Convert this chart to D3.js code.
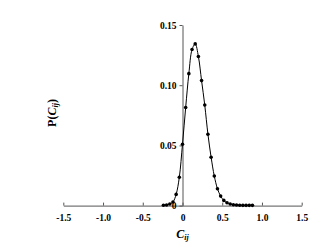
<!DOCTYPE html>
<html>
<head>
<meta charset="utf-8">
<script src="https://cdn.jsdelivr.net/npm/d3@7"></script>
<style>
  body { margin: 0; background: #fff; }
  svg { display: block; }
  .axis text { font-family: "Liberation Serif", "Times New Roman", serif; font-weight: bold; font-size: 9.5px; fill: #000; }
  .axis path, .axis line { stroke: #555; stroke-width: 1; }
  .lbl { font-family: "Liberation Serif", "Times New Roman", serif; font-weight: bold; font-size: 12px; fill: #000; }
</style>
</head>
<body>
<svg id="chart"></svg>
<script>
// correlation bins
const cij = [-0.24, -0.20, -0.16, -0.12, -0.08, -0.04, 0.00, 0.04, 0.08, 0.12,
             0.16, 0.20, 0.24, 0.28, 0.32, 0.36, 0.40, 0.44, 0.48, 0.52,
             0.56, 0.60, 0.64, 0.68, 0.72, 0.76, 0.80, 0.84, 0.88]
// probability P(Cij)
const pCij = [0.0003, 0.0005, 0.0013, 0.003, 0.0093, 0.0235, 0.051, 0.0815, 0.1096, 0.1296,
              0.1343, 0.1238, 0.1038, 0.0835, 0.0593, 0.0402, 0.0246, 0.014, 0.0079, 0.0043,
              0.0024, 0.0013, 0.0007, 0.0005, 0.0003, 0.0002, 0.0002, 0.0002, 0.0002]

const xTicks = [-1.5, -1, -0.5, 0, 0.5, 1, 1.5]
const xTickLabels = ["-1.5", "-1.0", "-0.5", "0", "0.5", "1.0", "1.5"]
const yTicks = [0, 0.05, 0.10, 0.15]
const yTickLabels = ["0", "0.05", "0.10", "0.15"]

const w = 334, h = 250

const svg = d3.select('#chart')
  .attr('width', w)
  .attr('height', h)

const xScale = d3.scaleLinear()
  .domain([-1.5, 1.5])
  .range([63.3, 301.7])

const yScale = d3.scaleLinear()
  .domain([0, 0.15])
  .range([205.6, 25])

const xAxis = d3.axisBottom(xScale)
  .tickValues(xTicks)
  .tickFormat((d, i) => xTickLabels[i])
  .tickSizeInner(-3)
  .tickSizeOuter(0)
  .tickPadding(9)

const yAxis = d3.axisLeft(yScale)
  .tickValues(yTicks)
  .tickFormat((d, i) => yTickLabels[i])
  .tickSizeInner(3)
  .tickSizeOuter(0)
  .tickPadding(3)

svg.append('g')
  .attr('class', 'axis')
  .attr('transform', `translate(0,${yScale(0)})`)
  .call(xAxis)

svg.append('g')
  .attr('class', 'axis')
  .attr('transform', `translate(${xScale(0)},0)`)
  .call(yAxis)

const data = cij.map((c, i) => [c, pCij[i]])

const line = d3.line()
  .x(d => xScale(d[0]))
  .y(d => yScale(d[1]))
  .curve(d3.curveCatmullRom)

svg.append('path')
  .datum(data)
  .attr('d', line)
  .attr('fill', 'none')
  .attr('stroke', '#000')
  .attr('stroke-width', 1)

svg.selectAll('circle.pt')
  .data(data)
  .enter()
  .append('circle')
    .attr('class', 'pt')
    .attr('cx', d => xScale(d[0]))
    .attr('cy', d => yScale(d[1]))
    .attr('r', 1.8)
    .attr('fill', '#000')

// x label  C_ij
const xl = svg.append('text')
  .attr('class', 'lbl')
  .attr('x', xScale(0))
  .attr('y', 238)
  .attr('text-anchor', 'middle')
xl.append('tspan').style('font-style', 'italic').text('C')
xl.append('tspan').style('font-style', 'italic').style('font-size', '8px').attr('dy', 2).text('ij')

// y label  P(C_ij)
const yl = svg.append('text')
  .attr('class', 'lbl')
  .attr('transform', 'translate(56,113) rotate(-90)')
  .attr('text-anchor', 'middle')
yl.append('tspan').text('P(')
yl.append('tspan').style('font-style', 'italic').text('C')
yl.append('tspan').style('font-style', 'italic').style('font-size', '8px').attr('dy', 2).text('ij')
yl.append('tspan').attr('dy', -2).text(')')
</script>
</body>
</html>
